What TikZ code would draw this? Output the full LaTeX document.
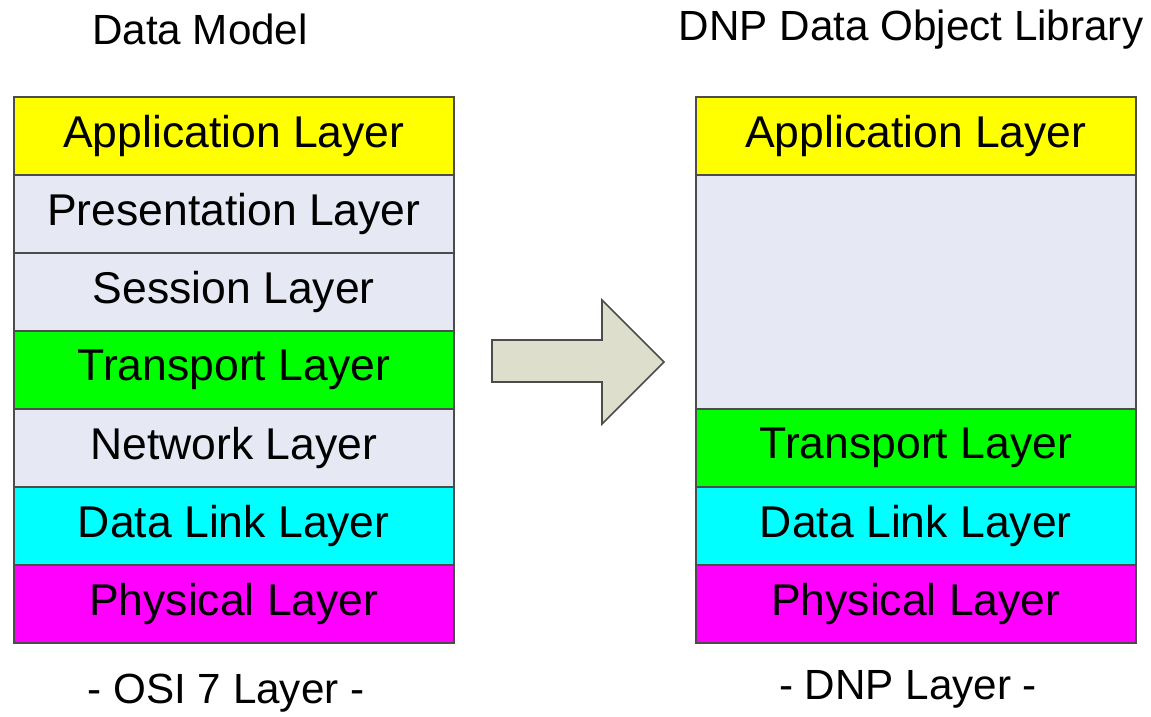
\documentclass[tikz,border=0pt]{standalone}
\usepackage{fontspec}
\setmainfont{Liberation Sans}
\begin{document}
\begin{tikzpicture}[x=1pt,y=-1pt,
  layer/.style={draw=black!70, line width=1.6pt, minimum width=440pt, anchor=north west,
    inner sep=0pt, font=\fontsize{44.5}{50}\selectfont},
  title/.style={font=\fontsize{42.2}{48}\selectfont, inner sep=0pt}]
\definecolor{lyellow}{RGB}{255,255,0}
\definecolor{lgreen}{RGB}{0,255,0}
\definecolor{lcyan}{RGB}{0,255,255}
\definecolor{lmagenta}{RGB}{255,0,255}
\definecolor{lgrey}{HTML}{E6E9F4}
\definecolor{arrowfill}{HTML}{DDDFCC}
\useasboundingbox (0,0) rectangle (1151,716);
% titles
\node[title] (tl) at (200,29) {Data Model};
\node[title] (tr) at (911,30) {DNP Data Object Library};
% OSI stack
\node[layer, fill=lyellow, minimum height=78pt] (l1) at (13,96) {Application Layer};
\node[layer, fill=lgrey, minimum height=78pt] (l2) at (13,174) {Presentation Layer};
\node[layer, fill=lgrey, minimum height=78pt] (l3) at (13,252) {Session Layer};
\node[layer, fill=lgreen, minimum height=78pt] (l4) at (13,330) {Transport Layer};
\node[layer, fill=lgrey, minimum height=78pt] (l5) at (13,408) {Network Layer};
\node[layer, fill=lcyan, minimum height=78pt] (l6) at (13,486) {Data Link Layer};
\node[layer, fill=lmagenta, minimum height=78pt] (l7) at (13,564) {Physical Layer};
% DNP stack
\node[layer, fill=lyellow, minimum height=78pt] (r1) at (695,96) {Application Layer};
\node[layer, fill=lgrey, minimum height=234pt] (r2) at (695,174) {};
\node[layer, fill=lgreen, minimum height=78pt] (r3) at (695,408) {Transport Layer};
\node[layer, fill=lcyan, minimum height=78pt] (r4) at (695,486) {Data Link Layer};
\node[layer, fill=lmagenta, minimum height=78pt] (r5) at (695,564) {Physical Layer};
% block arrow
\draw[draw=black!70, line width=1.6pt, fill=arrowfill, line join=miter]
  (492,340) -- (602,340) -- (602,300) -- (664,362) -- (602,424) -- (602,382) -- (492,382) -- cycle;
% captions
\node[title] (bl) at (226,693) {- OSI 7 Layer -};
\node[title] (br) at (908,689) {- DNP Layer -};
\end{tikzpicture}
\end{document}
